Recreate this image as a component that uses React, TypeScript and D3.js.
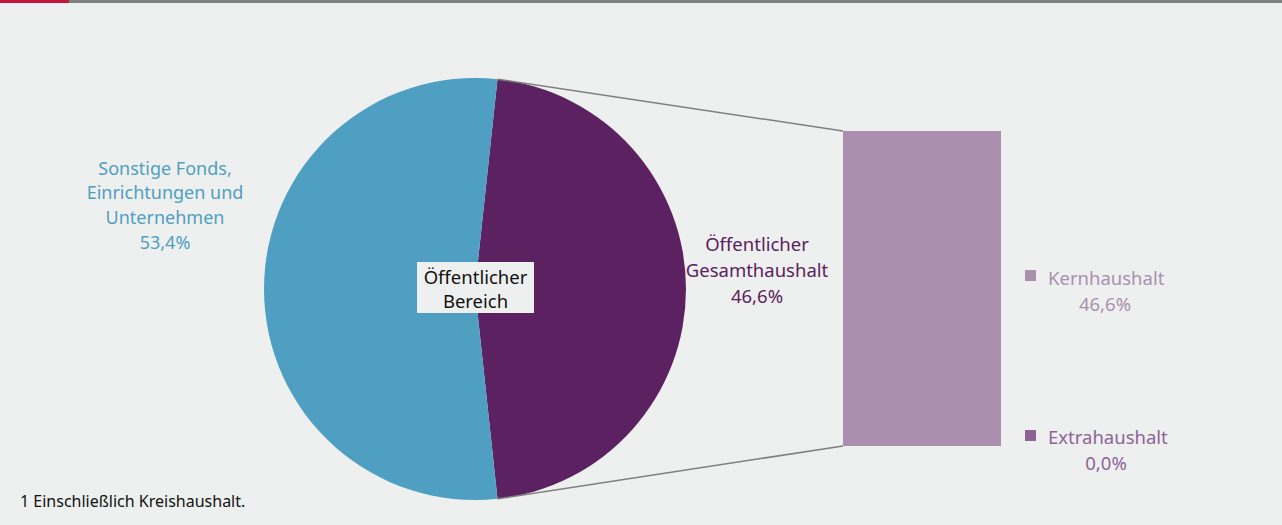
import React from "react";
import * as d3 from "d3";

const pieCategories = ["Öffentlicher Gesamthaushalt", "Sonstige Fonds, Einrichtungen und Unternehmen"];
const pieValues = [46.6, 53.4];
const barCategories = ["Kernhaushalt", "Extrahaushalt"];
const barValues = [46.6, 0.0];

const W = 1282;
const H = 525;
const BG = "#eef0ef";
const BLUE = "#4e9fc1";
const PURPLE = "#5b2160";
const LIGHT = "#ab8faf";
const MID = "#8d6496";
const FONT = "'Noto Sans', 'Open Sans', sans-serif";

export default function App() {
  const cx = 475;
  const cy = 289;
  const r = 211;
  const purpleAngle = (pieValues[0] / 100) * 2 * Math.PI;
  const startA = Math.PI / 2 - purpleAngle / 2;
  const pie = d3
    .pie<number>()
    .sort(null)
    .value((d) => d)
    .startAngle(startA)
    .endAngle(startA + 2 * Math.PI);
  const arcs = pie(pieValues);
  const arc = d3.arc<d3.PieArcDatum<number>>().innerRadius(0).outerRadius(r);
  const colors = [PURPLE, BLUE];

  const barX = 843;
  const barW = 158;
  const barTop = 131;
  const barBottom = 446;
  const total = barValues[0] + barValues[1];
  const y = d3.scaleLinear().domain([0, total]).range([barBottom, barTop]);

  const pTop: [number, number] = [cx + r * Math.sin(startA), cy - r * Math.cos(startA)];
  const endA = startA + purpleAngle;
  const pBot: [number, number] = [cx + r * Math.sin(endA), cy - r * Math.cos(endA)];

  const fs = 18.5;
  return (
    <svg width={W} height={H} style={{ position: "absolute", left: 0, top: 0 }}>
      <rect x={0} y={0} width={W} height={H} fill={BG} />
      <rect x={0} y={0} width={W} height={3} fill="#808080" />
      <rect x={0} y={0} width={69} height={3} fill="#c4163f" />
      <g transform={`translate(${cx},${cy})`}>
        {arcs.map((a, i) => (
          <path key={i} d={arc(a) || ""} fill={colors[i]} />
        ))}
      </g>
      <line x1={pTop[0]} y1={pTop[1]} x2={barX} y2={barTop} stroke="#7f7f7f" strokeWidth={1.5} />
      <line x1={pBot[0]} y1={pBot[1]} x2={barX} y2={barBottom} stroke="#7f7f7f" strokeWidth={1.5} />
      <rect x={barX} y={y(barValues[0])} width={barW} height={y(0) - y(barValues[0])} fill={LIGHT} />
      <rect x={barX} y={y(total)} width={barW} height={y(barValues[0]) - y(total)} fill={MID} />

      <rect x={417} y={262} width={117} height={51} fill={BG} />
      <g fontFamily={FONT} fontSize={fs} textAnchor="middle" dominantBaseline="central">
        <text x={475.5} y={276} fill="#111">Öffentlicher</text>
        <text x={475.5} y={300} fill="#111">Bereich</text>

        <g fontSize={18}>
          <text x={165} y={168} fill={BLUE}>Sonstige Fonds,</text>
          <text x={165} y={192} fill={BLUE}>Einrichtungen und</text>
          <text x={165} y={217} fill={BLUE}>Unternehmen</text>
          <text x={165} y={242} fill={BLUE}>{String(pieValues[1]).replace(".", ",")}%</text>
        </g>

        <text x={757} y={243} fill={PURPLE}>Öffentlicher</text>
        <text x={757} y={269} fill={PURPLE}>Gesamthaushalt</text>
        <text x={757} y={295} fill={PURPLE}>{pieValues[0].toFixed(1).replace(".", ",")}%</text>

        <text x={1048} y={277} fill={LIGHT} textAnchor="start">{barCategories[0]}</text>
        <text x={1105} y={303} fill={LIGHT}>{barValues[0].toFixed(1).replace(".", ",")}%</text>
        <text x={1048} y={436} fill={MID} textAnchor="start">{barCategories[1]}</text>
        <text x={1106} y={462} fill={MID}>{barValues[1].toFixed(1).replace(".", ",")}%</text>
      </g>
      <rect x={1025} y={270} width={11} height={11} fill={LIGHT} />
      <rect x={1025} y={430} width={11} height={11} fill={MID} />
      <text x={20} y={501} fontFamily={FONT} fontSize={16} fill="#111" dominantBaseline="central">
        1 Einschließlich Kreishaushalt.
      </text>
    </svg>
  );
}
